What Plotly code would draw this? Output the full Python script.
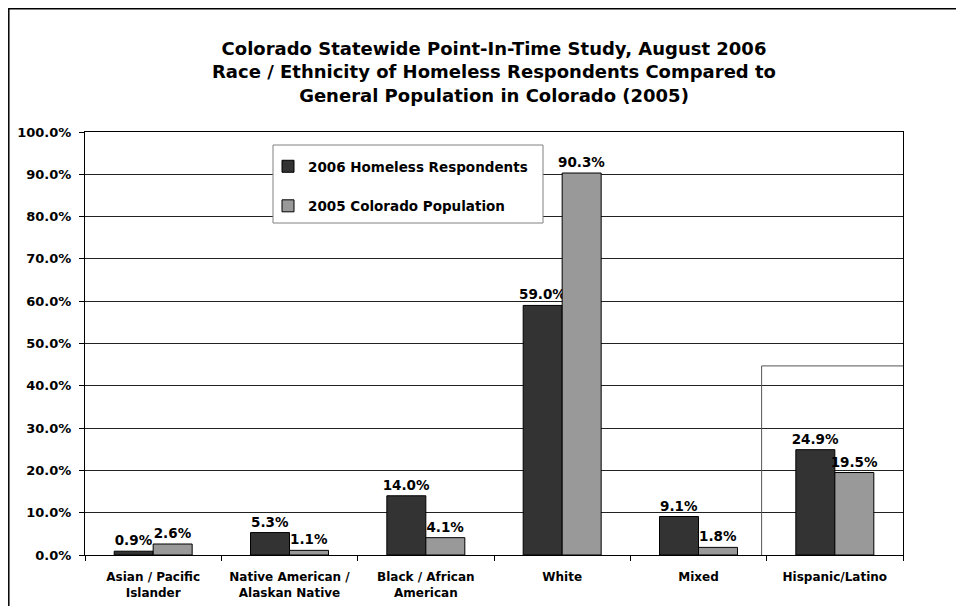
import plotly.graph_objects as go

categories = ["Asian / Pacific<br>Islander", "Native American /<br>Alaskan Native",
              "Black / African<br>American", "White", "Mixed", "Hispanic/Latino"]
homeless_2006 = [0.9, 5.3, 14.0, 59.0, 9.1, 24.9]
colorado_2005 = [2.6, 1.1, 4.1, 90.3, 1.8, 19.5]
series_names = ["2006 Homeless Respondents", "2005 Colorado Population"]
y_ticks = [0, 10, 20, 30, 40, 50, 60, 70, 80, 90, 100]
bracket_level = 44.7

FONT = "DejaVu Sans, Verdana, sans-serif"
OFF = 8  # page body margin
W, H = 964 - 2 * OFF, 606 - OFF
L, T = 85 - OFF, 132 - OFF
R = W - (903 - OFF)
B = H - (555 - OFF)
pw, ph = W - L - R, H - T - B

def px(x):  # screenshot x -> paper
    return (x - OFF - L) / pw

def py(y):  # screenshot y -> paper
    return (H - B - (y - OFF)) / ph

LABEL_FONT = dict(family=FONT, size=13.5, color="#000000", weight="bold")

fig = go.Figure()
fig.add_trace(go.Bar(
    x=categories, y=homeless_2006, name=series_names[0], legendgroup="a",
    marker=dict(color="#333333", line=dict(color="#000000", width=1)),
    texttemplate="%{y:.1f}%", textposition="outside", constraintext="none",
    textfont=LABEL_FONT, outsidetextfont=LABEL_FONT, cliponaxis=False,
))
fig.add_trace(go.Bar(
    x=categories, y=colorado_2005, name=series_names[1], legendgroup="b",
    marker=dict(color="#999999", line=dict(color="#000000", width=1)),
    texttemplate="%{y:.1f}%", textposition="outside", constraintext="none",
    textfont=LABEL_FONT, outsidetextfont=LABEL_FONT, cliponaxis=False,
))

shapes = [
    # outer chart border
    dict(type="rect", xref="paper", yref="paper",
         x0=px(OFF + 0.8), x1=px(990), y0=py(OFF + 0.8), y1=py(640),
         line=dict(color="#000000", width=1.5), fillcolor="rgba(0,0,0,0)", layer="below"),
    # legend box
    dict(type="rect", xref="paper", yref="paper",
         x0=px(273), x1=px(543), y0=py(145), y1=py(223),
         line=dict(color="#808080", width=1), fillcolor="#ffffff", layer="above"),
    # bracket around Hispanic/Latino
    dict(type="line", xref="x", yref="y", x0=4.463, x1=4.463, y0=0, y1=bracket_level,
         line=dict(color="#555555", width=1)),
    dict(type="line", xref="x", yref="y", x0=4.463, x1=5.5, y0=bracket_level, y1=bracket_level,
         line=dict(color="#555555", width=1)),
]

fig.update_layout(
    width=W, height=H,
    margin=dict(l=L, r=R, t=T, b=B, pad=0, autoexpand=False),
    paper_bgcolor="#ffffff", plot_bgcolor="#ffffff",
    font=dict(family=FONT, color="#000000", weight="bold"),
    title=dict(
        text="Colorado Statewide Point-In-Time Study, August 2006<br>"
             "Race / Ethnicity of Homeless Respondents Compared to<br>"
             "General Population in Colorado (2005)",
        font=dict(family=FONT, size=18, color="#000000", weight="bold"),
        x=0.5, xref="paper", xanchor="center",
        y=1 - 47 / H, yref="container", yanchor="top",
    ),
    barmode="group", bargap=0.428, bargroupgap=0,
    showlegend=True,
    legend=dict(
        x=px(268), y=py(151), xanchor="left", yanchor="top",
        bgcolor="rgba(0,0,0,0)", borderwidth=0,
        font=dict(family=FONT, size=13.5, color="#000000", weight="bold"),
        tracegroupgap=19,
    ),
    shapes=shapes,
)
fig.update_xaxes(
    type="category", range=[-0.5, 5.5], automargin=False,
    showline=True, linecolor="#000000", linewidth=1, mirror=True,
    ticks="outside", tickson="boundaries", ticklen=5, tickcolor="#000000",
    ticklabelstandoff=11,
    tickfont=dict(family=FONT, size=12, color="#000000", weight="bold"),
    showgrid=False,
)
fig.update_yaxes(
    range=[0, 100], tickvals=y_ticks, ticktext=[f"{v:.1f}%" for v in y_ticks],
    automargin=False,
    showline=True, linecolor="#000000", linewidth=1, mirror=True,
    ticks="outside", ticklen=5, tickcolor="#000000", ticklabelstandoff=5,
    tickfont=dict(family=FONT, size=13, color="#000000", weight="bold"),
    showgrid=True, gridcolor="#222222", gridwidth=1, zeroline=False,
)

fig.write_html("out.html")
